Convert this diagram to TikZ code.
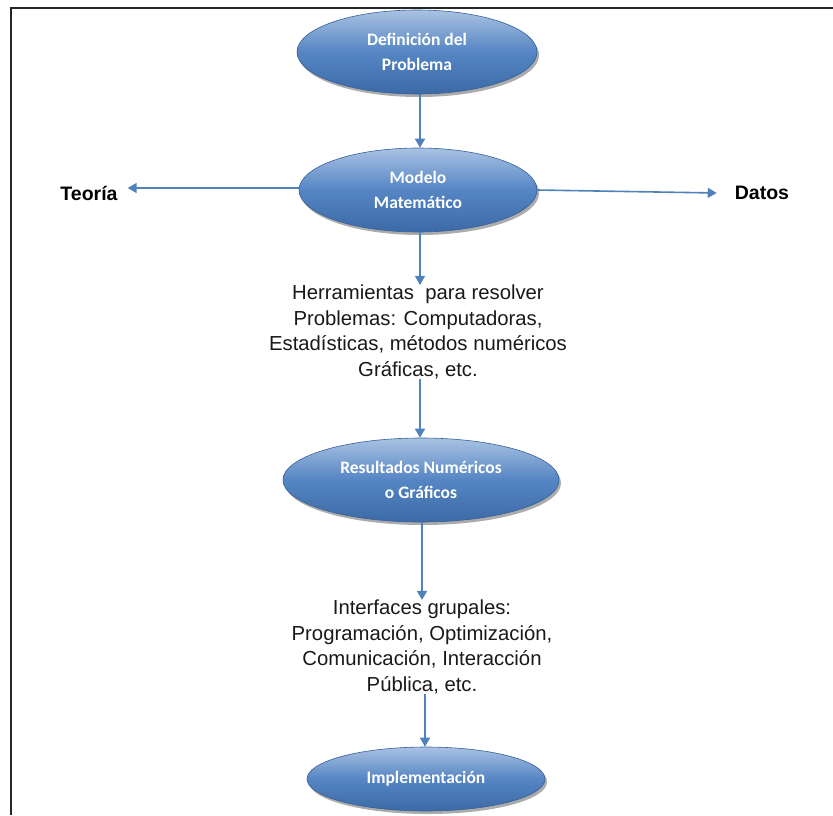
\documentclass[tikz,border=0pt]{standalone}
\usepackage{fontspec}
\setmainfont{Liberation Sans}
\newfontfamily\ovalfont{Carlito}
\usetikzlibrary{shapes.geometric,arrows.meta,shadows}

\definecolor{ovaltop}{HTML}{A9C2E3}
\definecolor{ovalmid}{HTML}{5585C3}
\definecolor{ovalbot}{HTML}{3C6AA6}
\definecolor{ovalrim}{HTML}{35609A}
\definecolor{flowline}{HTML}{4F81BD}

\tikzset{
  oval/.style={ellipse, inner sep=0pt, minimum width=240pt, minimum height=84pt,
    top color=ovaltop, bottom color=ovalbot, middle color=ovalmid,
    draw=ovalrim, line width=0.6pt,
    drop shadow={shadow xshift=2pt, shadow yshift=-3pt, fill=black!55, opacity=0.6},
    text=white, align=center,
    font=\ovalfont\bfseries\fontsize{17.5}{25}\selectfont},
  plaintext/.style={align=center, text=black!90, inner sep=0pt,
    font=\fontsize{20.3}{25.5}\selectfont},
  sidelabel/.style={inner sep=0pt, font=\bfseries\fontsize{19.5}{22}\selectfont},
  flow/.style={draw=flowline, line width=1.6pt,
    -{Triangle[width=10pt,length=9pt]}},
}

\begin{document}
\begin{tikzpicture}[x=1pt, y=-1pt]
  \useasboundingbox (0,0) rectangle (833,815);

  % outer frame (only the top and left edges are visible)
  \draw[line width=2.6pt, black!85] (11,815) -- (11,8) -- (833,8);

  % ovals
  \node[oval] (def) at (417,52) {Definición del\\Problema};
  \node[oval, minimum width=238pt] (mod) at (418,190) {Modelo\\Matemático};
  \node[oval, minimum width=276pt, minimum height=84pt] (res) at (421,480) {Resultados Numéricos\\o Gráficos};
  \node[oval, minimum width=238pt, minimum height=64pt] (imp) at (426,779) {Implementación};

  % plain text blocks
  \node[plaintext] (her) at (418,332)
    {Herramientas\ \ para resolver\\Problemas: Computadoras,\\Estadísticas, métodos numéricos\\Gráficas, etc.};
  \node[plaintext] (int) at (422,647)
    {Interfaces grupales:\\Programación, Optimización,\\Comunicación, Interacción\\Pública, etc.};

  % side labels
  \node[sidelabel] (teo) at (89,193) {Teoría};
  \node[sidelabel] (dat) at (762,193) {Datos};

  % connectors
  \draw[flow] (def.south -| 420,0) -- (mod.north -| 420,0);
  \draw[flow] (mod.south -| 420,0) -- (her.north -| 420,0);
  \draw[flow] (her.south -| 420,0) -- (res.north -| 420,0);
  \draw[flow] (res.south -| 422,0) -- (int.north -| 422,0);
  \draw[flow] (int.south -| 425,0) -- (imp.north -| 425,0);
  \draw[flow] (mod.west |- 0,188) -- ([xshift=10pt]teo.east |- 0,188);
  \draw[flow] (mod.east |- 0,190) -- ([xshift=-18pt]dat.west |- 0,193);
\end{tikzpicture}
\end{document}
